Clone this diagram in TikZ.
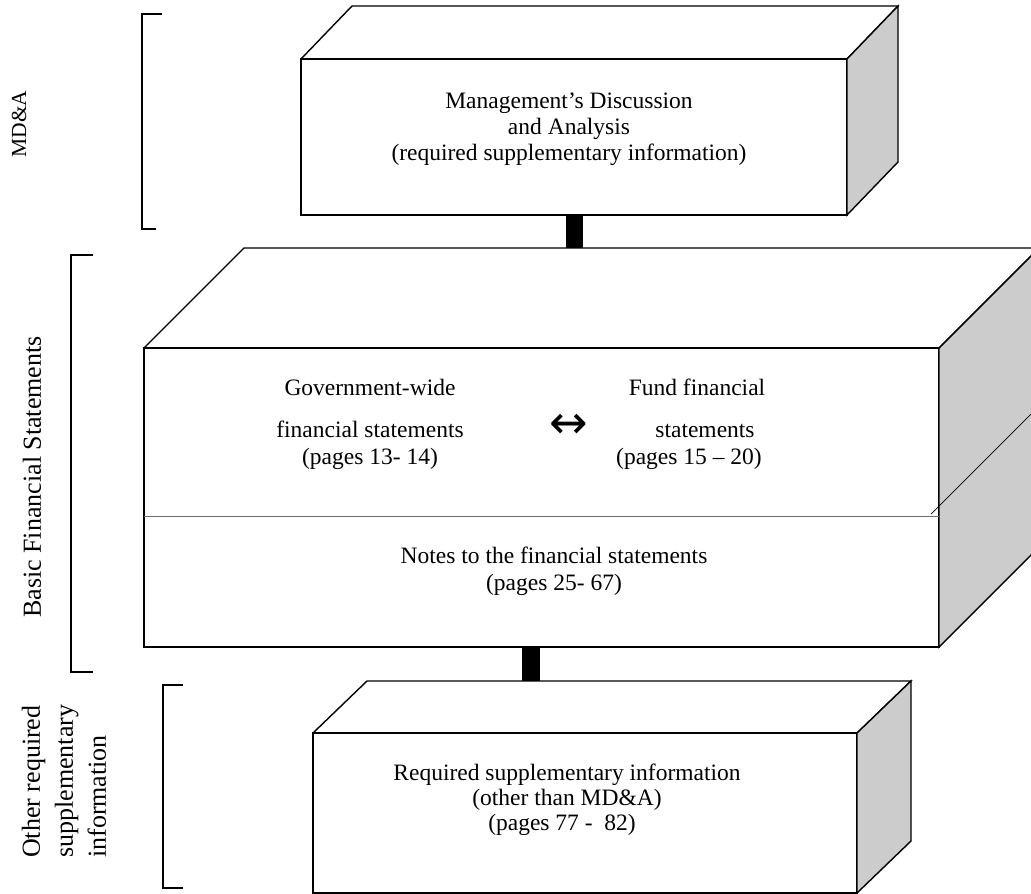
\documentclass[tikz,border=0pt]{standalone}
\usepackage{fontspec}
\setmainfont{Liberation Serif}
\newfontfamily\arrowfont{DejaVu Sans}
\definecolor{sidegray}{RGB}{204,204,204}
\definecolor{divgray}{RGB}{110,110,110}
\begin{document}
\begin{tikzpicture}[x=1pt,y=-1pt,
  edge/.style={line width=1.4pt, line join=miter},
  frontbox/.style={draw, line width=1.4pt, fill=white, inner sep=0pt, outer sep=0pt, anchor=north west},
  sideface/.style={edge, fill=sidegray},
  txt/.style={font=\fontsize{23.5}{27}\selectfont, inner sep=0pt, anchor=base},
  sidelbl/.style={font=\fontsize{26}{33}\selectfont, rotate=90, inner sep=0pt},
  brk/.style={line width=1.4pt},
  barfill/.style={fill=black, draw=none}]
\clip (0,0) rectangle (1031,894);
\fill[white] (0,0) rectangle (1031,894);

% ---------- top box (MD&A)
\node[frontbox, minimum width=546pt, minimum height=156pt] (mda) at (301,59) {};
\draw[edge] (mda.north west) -- ++(51,-53) coordinate (mdaback) -- ++(546,0) coordinate (mdabackr) -- (mda.north east);
\draw[sideface] (mda.north east) -- (mdabackr) -- ++(0,156) -- (mda.south east) -- cycle;
\node[txt] (mda1) at (569,108) {Management’s Discussion};
\node[txt] (mda2) at (569,134) {and Analysis};
\node[txt] (mda3) at (569,160) {(required supplementary information)};

% ---------- middle box (basic financial statements)
\node[frontbox, minimum width=795pt, minimum height=299pt] (bfs) at (144,348) {};
\draw[edge] (bfs.north west) -- ++(100,-100) coordinate (bfsback) -- ++(795,0) coordinate (bfsbackr) -- (bfs.north east);
\draw[sideface] (bfs.north east) -- (bfsbackr) -- ++(0,299) -- (bfs.south east) -- cycle;
\coordinate (divl) at (144,516);
\coordinate (divr) at (939,516);
\draw[divgray, line width=1pt] (divl) -- (divr);
\coordinate (sdiv) at (931,514);
\draw[line width=0.7pt] (sdiv) -- ++(110,-110);

\node[txt] (gw1) at (370,395) {Government-wide};
\node[txt] (gw2) at (370,437) {financial statements};
\node[txt] (gw3) at (370,464) {(pages 13- 14)};
\node[font=\arrowfont\fontsize{46}{46}\selectfont, inner sep=0pt] (arr) at (569,426) {↔};
\node[txt] (ff1) at (697,395) {Fund financial};
\node[txt] (ff2) at (705,437) {statements};
\node[txt] (ff3) at (689,464) {(pages 15 – 20)};
\node[txt] (nt1) at (554,563) {Notes to the financial statements};
\node[txt] (nt2) at (554,590) {(pages 25- 67)};

% ---------- bottom box (RSI)
\node[frontbox, minimum width=544pt, minimum height=160pt] (rsi) at (313,733) {};
\draw[edge] (rsi.north west) -- ++(54,-52) coordinate (rsiback) -- ++(544,0) coordinate (rsibackr) -- (rsi.north east);
\draw[sideface] (rsi.north east) -- (rsibackr) -- ++(0,160) -- (rsi.south east) -- cycle;
\node[txt] (rs1) at (567,780) {Required supplementary information};
\node[txt] (rs2) at (567,805) {(other than MD\&A)};
\node[txt] (rs3) at (562,830) {(pages 77 -\ \ 82)};

% ---------- connecting bars
\fill[barfill] ([xshift=-8.5pt]mda.south) rectangle ([xshift=8.5pt]mda.south |- bfsback);
\coordinate (barlow) at (531,647);
\fill[barfill] ([xshift=-9pt]barlow) rectangle ([xshift=9pt]barlow |- rsiback);

% ---------- brackets
\coordinate (b1t) at (142,14);
\coordinate (b1b) at (142,229);
\draw[brk] ([xshift=20pt]b1t) -- (b1t) -- (b1b) -- ([xshift=14pt]b1b);
\coordinate (b2t) at (71,255);
\coordinate (b2b) at (71,672);
\draw[brk] ([xshift=22pt]b2t) -- (b2t) -- (b2b) -- ([xshift=22pt]b2b);
\coordinate (b3t) at (163,685);
\coordinate (b3b) at (163,888);
\draw[brk] ([xshift=20pt]b3t) -- (b3t) -- (b3b) -- ([xshift=20pt]b3b);

% ---------- side labels
\node[sidelbl, font=\fontsize{21.5}{26}\selectfont] (lmda) at (19,124) {MD\&A};
\node[sidelbl] (lbfs) at (32,477) {Basic Financial Statements};
\node[sidelbl, align=left, anchor=west] (lrsi) at (64,858) {Other required\\supplementary\\information};
\end{tikzpicture}
\end{document}
